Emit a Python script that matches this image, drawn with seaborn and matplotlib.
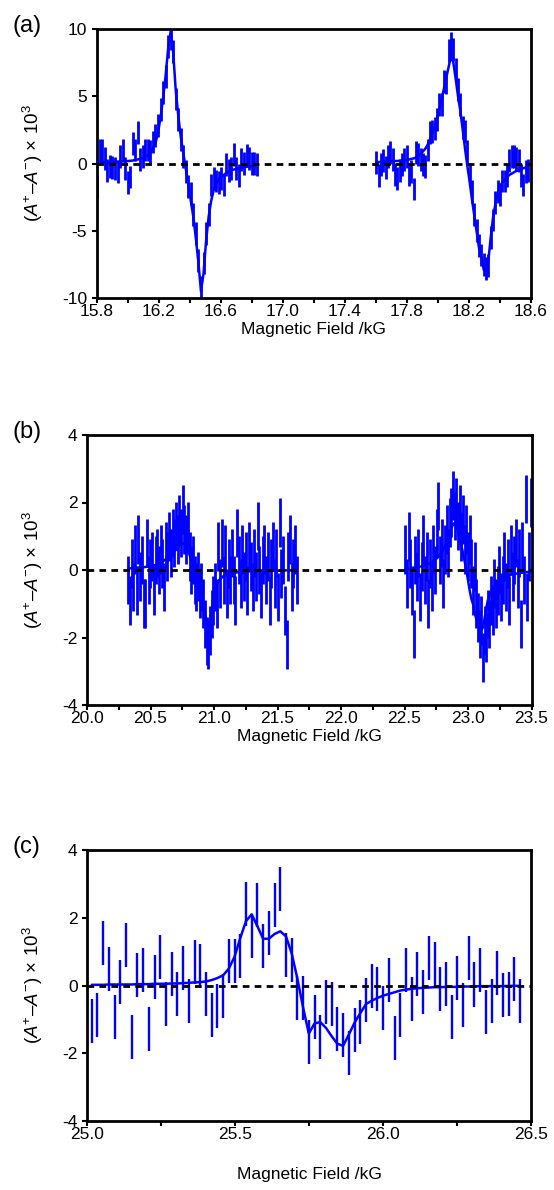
import numpy as np
import matplotlib
matplotlib.use('Agg')
import matplotlib.pyplot as plt
import seaborn as sns

# ---------------- data ----------------
# panel (a): two scan segments, x = start + step * index
a_left_start, a_left_step = 15.805, 0.0163
a_left_y = [-1.7, 1.0, 1.0, 0.4, -0.5, -0.2, -0.3, -0.4, -0.6, 0.5,
            1.0, -0.4, -1.4, -1.0, 1.5, 1.0, 2.3, 0.3, 0.5, 1.0,
            1.0, 0.9, 1.6, 2.1, 2.8, 4.0, 5.3, 6.5, 8.7, 9.3,
            8.3, 4.8, 3.3, 1.8, 0.5, -0.6, -1.7, -2.2, -3.8, -5.2,
            -7.2, -9.2, -7.4, -5.2, -3.8, -1.6, -1.1, -1.3, -1.4, -1.1,
            -1.6, -0.1, -0.5, -0.4, 0.7, -0.4, -0.9, 0.3, 0.0, 0.6,
            0.4, 0.0, 0.0, -0.1]
a_left_fit = [0.1, 0.1, 0.1, 0.1, 0.1, 0.1, 0.1, 0.12, 0.12, 0.13,
              0.15, 0.16, 0.18, 0.2, 0.22, 0.25, 0.3, 0.35, 0.4, 0.5,
              0.6, 0.8, 1.1, 1.5, 2.3, 3.4, 4.8, 6.5, 8.5, 9.8,
              8.3, 5.5, 3.6, 2.0, 0.8, -0.4, -1.5, -2.8, -4.0, -5.6,
              -7.4, -9.5, -8.2, -5.8, -4.0, -2.8, -2.0, -1.5, -1.2, -1.0,
              -0.85, -0.7, -0.6, -0.5, -0.45, -0.4, -0.35, -0.3, -0.27, -0.24,
              -0.22, -0.2, -0.18, -0.16]
a_right_start, a_right_step = 17.603, 0.01505
a_right_y = [0.1, -0.9, -0.1, 0.2, -0.3, 0.5, 0.8, 0.3, -0.8, -1.1,
             -0.5, -0.1, 0.3, 0.5, -0.8, -0.6, -1.9, 0.8, 0.7, 0.3,
             -0.1, -0.2, 1.0, 2.3, 2.4, 2.6, 3.3, 4.4, 4.4, 6.1,
             6.0, 8.4, 8.9, 8.5, 7.0, 5.5, 4.4, 2.7, 2.4, 0.9,
             -0.8, -2.1, -3.8, -5.0, -6.1, -6.8, -7.5, -7.8, -7.6, -5.5,
             -4.2, -2.9, -2.1, -2.3, -1.3, -1.3, -0.9, 0.2, 0.5, 0.5,
             0.4, 0.2, -0.9, -1.6, -0.6, -0.5]
a_right_fit = [0.10, 0.11, 0.12, 0.13, 0.14, 0.15, 0.16, 0.17, 0.18, 0.19,
               0.20, 0.22, 0.24, 0.27, 0.30, 0.34, 0.38, 0.45, 0.55, 0.70,
               0.90, 1.10, 1.40, 1.80, 2.30, 2.70, 3.30, 4.00, 4.80, 5.60,
               6.40, 7.20, 8.00, 7.50, 6.30, 5.00, 3.90, 2.50, 1.10, -0.20,
               -1.40, -2.70, -3.90, -5.10, -6.30, -7.00, -7.90, -8.00, -7.20, -5.50,
               -4.00, -3.00, -2.20, -1.70, -1.40, -1.20, -1.00, -0.85, -0.75, -0.65,
               -0.55, -0.50, -0.42, -0.35, -0.30, -0.25]
a_err = 0.85

# panel (b)
b_left_start, b_left_step = 20.325, 0.0134
b_left_y = [-0.3, -0.9, 0.2, -0.5, 0.6, -0.6, 0.9, -0.2, 0.3, -1.0,
            -1.0, 0.8, -0.3, 0.2, 0.4, -0.6, 0.3, 0.5, 0.0, 0.6,
            0.2, -0.5, 0.7, 0.4, 1.0, 0.5, 1.1, 0.8, 1.3, 0.9,
            1.5, 1.1, 1.8, 1.2, 0.9, 1.3, 0.4, 0.0, 0.3, -0.3,
            -0.5, -0.2, -0.7, -0.5, -1.0, -1.6, -2.1, -2.2, -1.8, -1.3,
            -0.9, -0.5, -1.0, 0.7, -0.4, 0.8, -0.3, 0.6, -0.7, 0.2,
            -0.3, 0.5, -0.3, -0.9, 1.1, 0.3, -0.4, 0.6, -0.2, 0.4,
            -0.6, 0.7, 0.1, -0.5, 0.5, -0.2, 1.3, 0.0, -0.7, 0.3,
            0.6, -0.3, 0.4, -0.9, 0.2, 0.7, -0.4, 0.5, -0.8, 1.4,
            -0.1, 0.3, -1.2, -2.2, 0.4, 0.9, -0.5, 0.2, 0.6, -0.3]
b_left_fit = [0.05, 0.05, 0.05, 0.06, 0.06, 0.06, 0.07, 0.07, 0.08, 0.08,
              0.09, 0.10, 0.10, 0.11, 0.12, 0.13, 0.15, 0.17, 0.19, 0.22,
              0.25, 0.28, 0.32, 0.36, 0.40, 0.45, 0.50, 0.55, 0.60, 0.66,
              0.72, 0.78, 0.80, 0.78, 0.70, 0.60, 0.45, 0.30, 0.10, -0.10,
              -0.30, -0.50, -0.70, -0.90, -1.10, -1.30, -1.50, -1.65, -1.55, -1.20,
              -0.80, -0.55, -0.42, -0.33, -0.27, -0.22, -0.18, -0.16, -0.14, -0.12,
              -0.11, -0.10, -0.09, -0.08, -0.07, -0.07, -0.06, -0.06, -0.05, -0.05,
              -0.05, -0.04, -0.04, -0.04, -0.04, -0.03, -0.03, -0.03, -0.03, -0.03,
              -0.03, -0.02, -0.02, -0.02, -0.02, -0.02, -0.02, -0.02, -0.02, -0.02,
              -0.02, -0.02, -0.01, -0.01, -0.01, -0.01, -0.01, -0.01, -0.01, -0.01]
b_right_start, b_right_step = 22.506, 0.0130
b_right_y = [0.6, -0.4, 1.0, 0.2, -0.6, -1.9, 0.3, -0.2, 0.5, -0.8,
             0.1, 0.9, -0.3, 0.4, -1.0, 0.2, -0.5, 0.6, 0.0, 1.1,
             1.9, 0.3, 0.8, -0.4, 0.6, 1.2, 0.5, 1.4, 1.7, 2.2,
             1.6, 2.0, 1.3, 1.8, 1.0, 1.5, 0.6, 1.2, 0.4, 0.9,
             0.2, -0.6, 0.1, -1.0, -1.4, -1.9, -1.5, -2.6, -1.8, -2.0,
             -1.3, -1.6, -0.9, -1.2, -0.4, -1.0, -0.6, 0.0, -0.8, -0.3,
             0.4, -0.5, 0.2, -0.9, 0.6, -0.2, 0.3, 0.8, -0.4, 0.5,
             -1.6, 0.7, -0.3, 2.1, -0.8, 0.4, 2.0]
b_right_fit = [0.02, 0.03, 0.03, 0.04, 0.05, 0.06, 0.07, 0.08, 0.09, 0.10,
               0.11, 0.12, 0.14, 0.16, 0.18, 0.20, 0.23, 0.26, 0.30, 0.34,
               0.39, 0.45, 0.52, 0.60, 0.70, 0.82, 0.95, 1.10, 1.25, 1.35,
               1.40, 1.30, 1.15, 0.95, 0.72, 0.50, 0.25, 0.00, -0.30, -0.60,
               -0.85, -1.00, -1.25, -1.45, -1.62, -1.74, -1.80, -1.70, -1.45, -1.15,
               -0.90, -0.75, -0.63, -0.54, -0.47, -0.41, -0.36, -0.32, -0.28, -0.25,
               -0.22, -0.20, -0.18, -0.16, -0.14, -0.13, -0.12, -0.11, -0.10, -0.09,
               -0.08, -0.08, -0.07, -0.06, -0.06, -0.05, -0.05]
b_err = 0.72

# panel (c)
c_start, c_step = 25.016, 0.0193
c_y = [-1.04, -0.88, 1.25, 0.50, -0.93, 0.11, 1.19, -1.52, 0.32, 0.47,
       -1.28, 0.26, 0.83, -0.55, 0.35, -0.25, 0.53, -0.46, 0.68, 0.58,
       -0.26, -0.86, -0.61, -0.31, 0.71, 0.71, 0.86, 2.40, 1.47, 2.38,
       1.16, 1.55, 2.38, 2.86, 0.89, 0.76, -0.36, -0.38, -1.68, -0.93,
       -1.52, -0.50, -0.55, -1.29, -1.47, -1.98, -1.30, -1.09, -0.43, -0.02,
       -0.10, -0.66, 0.16, -1.55, -0.87, 0.45, -0.40, 0.35, -0.20, 0.82,
       0.64, -0.11, 0.05, -0.94, 0.22, -0.57, 0.80, 0.03, 0.47, -0.77,
       -0.46, 0.37, -0.27, -0.25, 0.20, -0.45]
c_fit = [0.02, 0.02, 0.02, 0.03, 0.03, 0.03, 0.03, 0.03, 0.04, 0.04,
         0.04, 0.05, 0.05, 0.05, 0.06, 0.06, 0.07, 0.08, 0.09, 0.10,
         0.12, 0.16, 0.22, 0.30, 0.50, 0.85, 1.40, 1.90, 2.10, 1.75,
         1.38, 1.38, 1.52, 1.60, 1.45, 0.95, 0.20, -0.65, -1.42, -1.12,
         -1.08, -1.25, -1.50, -1.72, -1.78, -1.45, -1.10, -0.82, -0.55, -0.45,
         -0.37, -0.30, -0.25, -0.20, -0.15, -0.12, -0.10, -0.08, -0.07, -0.06,
         -0.05, -0.05, -0.04, -0.04, -0.04, -0.03, -0.03, -0.03, -0.02, -0.02,
         -0.02, -0.02, -0.02, -0.01, -0.01, -0.01]
c_err = 0.65

# axis ticks
a_xticks = [15.8, 16.2, 16.6, 17.0, 17.4, 17.8, 18.2, 18.6]
a_xminor = [16.0, 16.4, 16.8, 17.2, 17.6, 18.0, 18.4]
a_yticks = [-10, -5, 0, 5, 10]
b_xticks = [20.0, 20.5, 21.0, 21.5, 22.0, 22.5, 23.0, 23.5]
b_xminor = [20.25, 20.75, 21.25, 21.75, 22.25, 22.75, 23.25]
c_xticks = [25.0, 25.5, 26.0, 26.5]
c_xminor = [25.25, 25.75, 26.25]
bc_yticks = [-4, -2, 0, 2, 4]

# ---------------- style ----------------
sns.set_theme(style='ticks')
plt.rcParams['font.family'] = ['Liberation Sans', 'DejaVu Sans']
plt.rcParams['mathtext.fontset'] = 'custom'
plt.rcParams['mathtext.rm'] = 'Liberation Sans'
plt.rcParams['mathtext.it'] = 'Liberation Sans:italic'
plt.rcParams['axes.unicode_minus'] = False

W, H = 554, 1190
fig = plt.figure(figsize=(W / 100, H / 100), dpi=100)
BLUE = '#0000FF'
FS = 12.5


def rect(l, t, r, b):
    return [l / W, 1 - b / H, (r - l) / W, (b - t) / H]


def seg(start, step, ys):
    return np.round(start + step * np.arange(len(ys)), 4), np.asarray(ys)


def draw(box, segments, fits, err, elw, xlim, ylim, xticks, xminor, yticks, letter, xlab_off):
    l, t, r, b = box
    ax = fig.add_axes(rect(l, t, r, b))
    ax.set_facecolor('white')
    for (xs, ys), fy in zip(segments, fits):
        ax.errorbar(xs, ys, yerr=err, fmt='none', ecolor=BLUE, elinewidth=elw,
                    capsize=0, zorder=2)
        sns.lineplot(x=xs, y=fy, ax=ax, color=BLUE, linewidth=1.8, zorder=3,
                     estimator=None, sort=False)
    ax.axhline(0, color='black', linewidth=2.0, linestyle=(0, (2.4, 1.9)), zorder=4)
    ax.set_xlim(*xlim)
    ax.set_ylim(*ylim)
    ax.set_xticks(xticks)
    ax.set_xticklabels([f'{v:.1f}' for v in xticks])
    ax.set_xticks(xminor, minor=True)
    ax.set_yticks(yticks)
    ax.set_yticklabels([str(v) for v in yticks])
    for s in ax.spines.values():
        s.set_linewidth(2.0)
        s.set_color('black')
        s.set_visible(True)
    ax.tick_params(axis='both', which='both', direction='out', length=3.3, width=1.5,
                   color='black', labelsize=FS, labelcolor='black')
    ax.tick_params(axis='x', pad=1.0)
    ax.tick_params(axis='y', pad=3.5)
    ax.grid(False)
    ax.set_xlabel('Magnetic Field /kG', fontsize=FS, color='black')
    ax.xaxis.set_label_coords(0.5, -xlab_off / (b - t))
    ax.set_ylabel(r'($\mathit{A}^{+}$–$\mathit{A}^{-}$) × 10$^{3}$', fontsize=13.5,
                  color='black')
    ax.yaxis.set_label_coords((45 - l) / (r - l), 0.5)
    fig.text(13 / W, 1 - (t + 3) / H, letter, fontsize=17, va='baseline', ha='left',
             color='black')
    return ax


draw((96.5, 29, 531, 298),
     [seg(a_left_start, a_left_step, a_left_y), seg(a_right_start, a_right_step, a_right_y)],
     [a_left_fit, a_right_fit], a_err, 2.0, (15.8, 18.6), (-10, 10), a_xticks, a_xminor,
     a_yticks, '(a)', 24)

draw((87, 435, 531.5, 705),
     [seg(b_left_start, b_left_step, b_left_y), seg(b_right_start, b_right_step, b_right_y)],
     [b_left_fit, b_right_fit], b_err, 2.0, (20.0, 23.5), (-4, 4), b_xticks,
     b_xminor, bc_yticks, '(b)', 24)

draw((87, 850, 531, 1121),
     [seg(c_start, c_step, c_y)],
     [c_fit], c_err, 1.7, (25.0, 26.5), (-4, 4), c_xticks,
     c_xminor, bc_yticks, '(c)', 46)

fig.savefig('out.png', dpi=100)
